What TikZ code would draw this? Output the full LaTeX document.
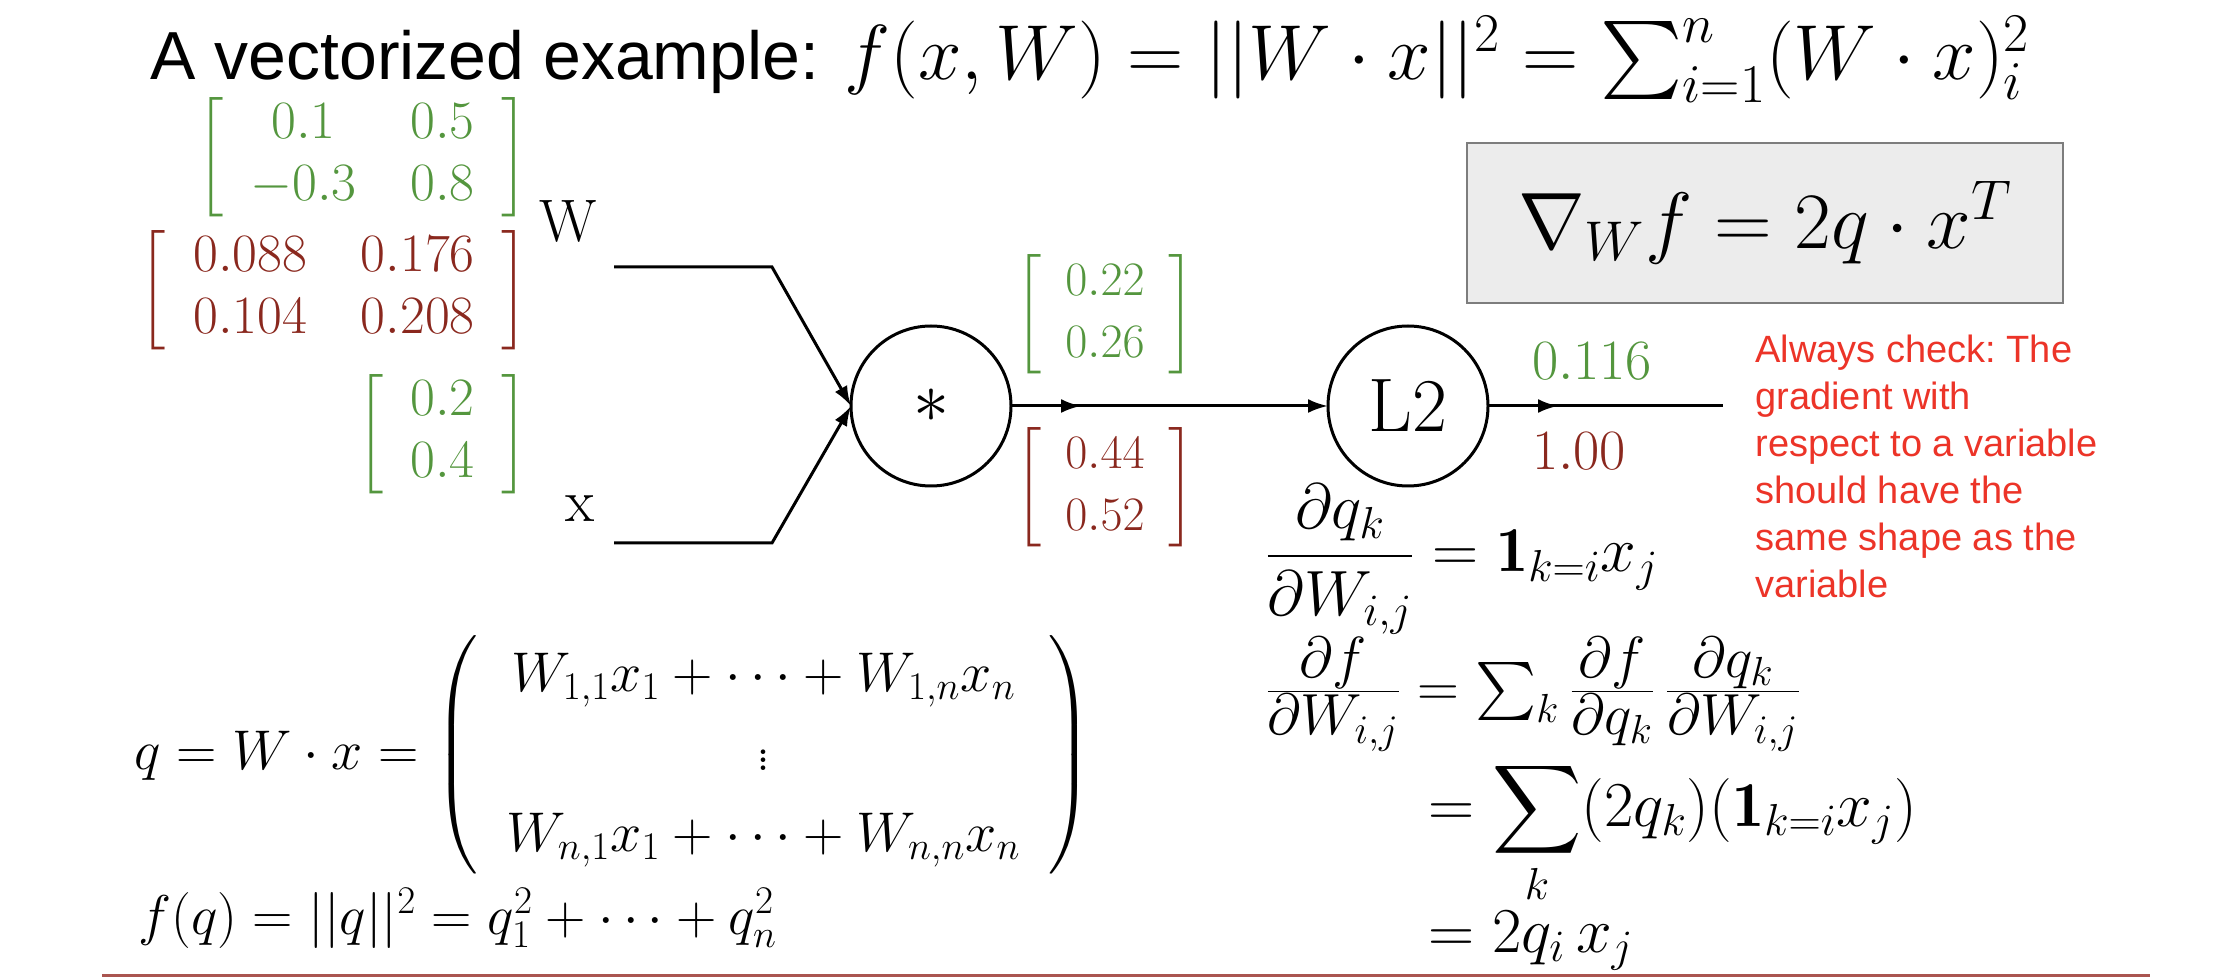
\RequirePackage{fix-cm}
\documentclass[tikz,border=0pt]{standalone}
\usepackage{amsmath}
\usepackage{graphicx}
\usepackage{fontspec}
\setsansfont{Liberation Sans}
\usetikzlibrary{arrows.meta, calc, decorations.markings, positioning}
\newcommand\inlinesum[1]{\mathop{\vcenter{\hbox{\scalebox{#1}{\fontsize{10}{12}\selectfont$\textstyle\sum$}}}}}
\newcommand\displaysum[1]{\mathop{\vcenter{\hbox{\scalebox{#1}{\fontsize{10}{12}\selectfont$\displaystyle\sum$}}}}}
\definecolor{forwardgreen}{RGB}{84,150,62}
\definecolor{backwardred}{RGB}{138,40,30}
\definecolor{notecolor}{RGB}{236,52,40}
\definecolor{boxfillcolor}{RGB}{236,236,236}
\definecolor{boxdrawcolor}{RGB}{125,125,125}
\definecolor{rulecolor}{RGB}{170,85,80}
\def\wirewidth{1.5pt}
\def\gatewidth{1.5pt}
\def\gatesize{80pt}
\def\tiplength{10pt}
\def\tipwidth{7pt}
\def\midtip{35pt}
\def\matrixsize{27}
\def\vectorsize{24}
\def\rowskip{31}
\tikzset{
	% numbers on the graph
	mat/.style={
		inner sep=0pt,
		outer sep=0pt,
		font={\fontsize{#1}{\rowskip}\selectfont\setlength{\arraycolsep}{0.5em}},
	},
	mat/.default=\matrixsize,
	value/.style={
		mat=#1,
		text=forwardgreen,
	},
	value/.default=\matrixsize,
	grad/.style={
		mat=#1,
		text=backwardred,
	},
	grad/.default=\matrixsize,
	% variable names
	varlabel/.style={
		inner sep=0pt,
		font=\fontsize{30}{36}\selectfont,
	},
	% gates
	gate/.style={
		shape=circle,
		draw,
		line width=\gatewidth,
		minimum size=\gatesize,
		inner sep=0pt,
		outer sep=0pt,
	},
	% wires
	wire/.style={
		line width=\wirewidth,
		-{Latex[length=\tiplength, width=\tipwidth]},
	},
	midarrow/.style={
		postaction={decorate},
		decoration={
			markings,
			mark=at position \midtip with {\arrow{Latex[length=\tiplength, width=\tipwidth]}}
		},
	},
	% text around
	title/.style={
		inner sep=0pt,
		font=\fontsize{34}{40}\sffamily,
	},
	gradbox/.style={
		draw=boxdrawcolor,
		fill=boxfillcolor,
		line width=1pt,
		minimum width=298pt,
		minimum height=80pt,
		font=\fontsize{40}{48}\selectfont,
	},
	note/.style={
		inner sep=0pt,
		align=left,
		text=notecolor,
		font=\fontsize{19}{23.5}\sffamily\frenchspacing,
	},
	formula/.style={
		inner sep=0pt,
		font={\fontsize{#1}{40}\selectfont\setlength{\arraycolsep}{0.5em}},
	},
}

\begin{document}
\begin{tikzpicture}[x=0.5pt, y=-0.5pt]
		\useasboundingbox (0,0) rectangle (2240,978);
		% Title
		\node[
			title,
			anchor=base west,
		] (title) at (150,80)
		  {A vectorized example: {\fontsize{39}{48}\selectfont $f(x,W) = ||W\cdot x||^2 = \inlinesum{3.9}_{i=1}^{n}(W\cdot x)_i^2$}};
		
		% Values and gradients of the inputs
		\node[
			value,
			anchor=east,
		] (w_value) at (528,157)
		  {$\left[\begin{array}{cc} 0.1 & 0.5\\ -0.3 & 0.8 \end{array}\right]$};
		%
		\node[
			grad,
			anchor=east,
		] (w_grad) at (528,290)
		  {$\left[\begin{array}{cc} 0.088 & 0.176\\ 0.104 & 0.208 \end{array}\right]$};
		%
		\node[
			value,
			anchor=east,
		] (x_value) at (528,434)
		  {$\left[\begin{array}{c} 0.2\\ 0.4 \end{array}\right]$};
		%
		\node[
			varlabel,
			anchor=base west,
		] (w_label) at (539,242) {W};
		%
		\node[
			varlabel,
			anchor=base west,
		] (x_label) at (565,522) {x};
		
		% Gates
		\node[
			gate,
		] (mul) at (931,406) {\fontsize{36}{40}\selectfont$\ast$};
		%
		\node[
			gate,
		] (l2) at (1408,406) {\fontsize{38}{44}\selectfont L2};
		
		% Wires
		\coordinate (w_start) at (614,267);
		\coordinate (x_start) at (614,543);
		\coordinate (out_end) at (1723,406);
		%% inputs -> mul
		\foreach \v in {w,x} {
			\draw [
				wire
			] (\v_start) -- ++(158,0) -- (mul.west);
		}
		%% mul -> l2
		\draw [
			wire,
			midarrow
		] (mul) -- (l2);
		%% l2 -> output
		\draw [
			line width=\wirewidth,
			midarrow
		] (l2) -- (out_end);
		
		% Values and gradients on the wires
		\node[
			value=\vectorsize,
		] (q_value) at (1105,314)
		  {$\left[\begin{array}{c} 0.22\\ 0.26 \end{array}\right]$};
		%
		\node[
			grad=\vectorsize,
		] (q_grad) at (1105,487)
		  {$\left[\begin{array}{c} 0.44\\ 0.52 \end{array}\right]$};
		%
		\node[
			value=28.5,
			anchor=base west,
		] (out_value) at (1532,380) {$0.116$};
		%
		\node[
			grad=28.5,
			anchor=base west,
		] (out_grad) at (1532,470) {$1.00$};
		
		% Gradient of W
		\node[
			gradbox,
		] (grad_box) at (1765,223) {$\nabla_W f = 2q\cdot x^T$};
		%
		\node[
			note,
			anchor=north west,
		] (note) at (1755,335)
		  {Always check: The\\gradient with\\respect to a variable\\should have the\\same shape as the\\variable};
		
		% Derivation
		\node[
			formula=28,
			anchor=west,
		] (q_def) at (134,755)
		  {$q = W\cdot x = \left(\begin{array}{c} W_{1,1}x_1+\cdots+W_{1,n}x_n\\ \vdots\\ W_{n,1}x_1+\cdots+W_{n,n}x_n \end{array}\right)$};
		%
		\node[
			formula=28,
			anchor=base west,
		] (f_def) at (138,934) {$f(q) = ||q||^2 = q_1^2+\cdots+q_n^2$};
		%
		\node[
			formula=32,
			anchor=base west,
		] (local_grad) at (1265,572)
		  {$\displaystyle\frac{\partial q_k}{\partial W_{i,j}} = \mathbf{1}_{k=i}x_j$};
		%
		\node[
			formula=29,
			anchor=base west,
		] (chain_rule) at (1265,706)
		  {$\frac{\textstyle\partial f}{\textstyle\partial W_{i,j}} = \inlinesum{2.9}_k \frac{\textstyle\partial f}{\textstyle\partial q_k}\,\frac{\textstyle\partial q_k}{\textstyle\partial W_{i,j}}$};
		%
		\node[
			formula=32,
			anchor=base west,
		] (chain_sum) at (1428,826)
		  {$\displaystyle = \displaysum{3.1}_k (2q_k)(\mathbf{1}_{k=i}x_j)$};
		%
		\node[
			formula=32,
			anchor=base west,
		] (chain_result) at (1428,952) {$= 2q_i\,x_j$};
		
		% Bottom rule
		\draw[rulecolor, line width=1.5pt] (102,975) -- (2150,975);
	\end{tikzpicture}
\end{document}
